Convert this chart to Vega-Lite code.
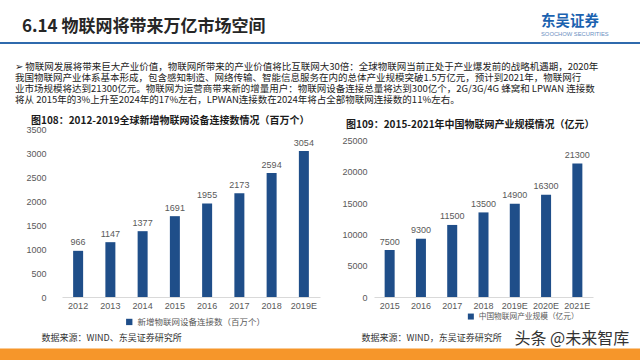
{
  "$schema": "https://vega.github.io/schema/vega-lite/v6.json",
  "padding": {"top": 14, "left": 0, "right": 0, "bottom": 5},
  "background": "white",
  "config": {
    "view": {"stroke": null},
    "font": "Noto Sans CJK SC",
    "title": {"font": "Noto Sans CJK SC"}
  },
  "spacing": 1.5,
  "vconcat": [
    {
      "spacing": 17.7,
      "vconcat": [
        {
          "spacing": 0,
          "hconcat": [
            {
              "width": 480,
              "height": 2,
              "view": {"fill": "#2f6aad", "stroke": null},
              "data": {"values": []},
              "mark": "text",
              "title": {"text": "6.14 物联网将带来万亿市场空间", "anchor": "start", "frame": "group", "dx": 22, "offset": 6.5, "fontSize": 17, "fontWeight": "bold", "color": "#262626"}
            },
            {
              "width": 160,
              "height": 2,
              "view": {"fill": "#2f6aad", "stroke": null},
              "data": {"values": []},
              "mark": "text",
              "title": {"text": "东吴证券", "subtitle": "SOOCHOW SECURITIES", "anchor": "start", "frame": "group", "dx": 61, "offset": 4.5, "fontSize": 14.5, "fontWeight": "bold", "color": "#1b62b0", "subtitleFontSize": 5.8, "subtitleColor": "#6b8fbf", "subtitlePadding": 1, "subtitleFont": "Liberation Sans"}
            }
          ]
        },
        {
          "spacing": 14,
          "resolve": {"scale": {"x": "independent", "y": "independent", "color": "independent"}, "legend": {"color": "independent"}},
          "title": {
            "text": [
              "➢  物联网发展将带来巨大产业价值，物联网所带来的产业价值将比互联网大30倍：全球物联网当前正处于产业爆发前的战略机遇期，2020年",
              "　我国物联网产业体系基本形成，包含感知制造、网络传输、智能信息服务在内的总体产业规模突破1.5万亿元，预计到2021年，物联网行",
              "　业市场规模将达到21300亿元。物联网为运营商带来新的增量用户：物联网设备连接总量将达到300亿个，2G/3G/4G 蜂窝和 LPWAN 连接数",
              "　将从 2015年的3%上升至2024年的17%左右，LPWAN连接数在2024年将占全部物联网连接数的11%左右。"
            ],
            "anchor": "start", "frame": "group", "dx": 15, "offset": 10.75, "fontSize": 9.5, "fontWeight": "normal", "lineHeight": 11, "color": "#222222"
          },
          "hconcat": [
            {"width": 11, "height": 1, "data": {"values": []}, "mark": "text"},
            {
              "width": 258,
              "height": 167.3,
              "title": {"text": "图108：2012-2019全球新增物联网设备连接数情况（百万个）", "anchor": "start", "frame": "group", "dx": -31, "offset": 0, "fontSize": 10, "fontWeight": "bold", "color": "#1a1a1a"},
              "data": {"values": [
                {"year": "2012", "value": 966},
                {"year": "2013", "value": 1147},
                {"year": "2014", "value": 1377},
                {"year": "2015", "value": 1691},
                {"year": "2016", "value": 1955},
                {"year": "2017", "value": 2173},
                {"year": "2018", "value": 2594},
                {"year": "2019E", "value": 3054}
              ]},
              "encoding": {
                "x": {"field": "year", "type": "nominal", "sort": null,
                  "scale": {"paddingInner": 0.69, "paddingOuter": 0.345},
                  "axis": {"labelAngle": 0, "ticks": false, "domainColor": "#d9d9d9", "labelColor": "#595959", "labelFont": "Liberation Sans", "labelFontSize": 9, "labelPadding": 4.5,
                    "title": "数据来源：WIND、东吴证券研究所", "titleX": -21, "titleY": 40, "titleAlign": "left", "titleBaseline": "middle", "titleFontSize": 9, "titleFontWeight": "normal", "titleColor": "#333333", "titleFont": "Noto Sans CJK SC"}},
                "y": {"field": "value", "type": "quantitative",
                  "scale": {"domain": [0, 3500], "nice": false},
                  "axis": {"values": [0, 500, 1000, 1500, 2000, 2500, 3000, 3500], "format": "d", "grid": false, "domain": false, "ticks": false, "labelPadding": 16, "labelColor": "#595959", "labelFont": "Liberation Sans", "labelFontSize": 9, "title": null}}
              },
              "layer": [
                {"mark": {"type": "bar", "color": "#1f4e89"},
                 "encoding": {"color": {"datum": "新增物联网设备连接数（百万个）", "type": "nominal", "scale": {"range": ["#1f4e89"]},
                   "legend": {"orient": "none", "legendX": 63, "legendY": 188, "title": null, "symbolType": "square", "symbolSize": 40, "symbolStrokeWidth": 0, "labelFontSize": 8.5, "labelColor": "#595959", "labelFont": "Noto Sans CJK SC", "padding": 0}}}},
                {"mark": {"type": "text", "dy": -5.5, "baseline": "alphabetic", "fontSize": 9, "font": "Liberation Sans", "color": "#595959"},
                 "encoding": {"text": {"field": "value", "type": "quantitative", "format": "d"}}}
              ]
            },
            {
              "width": 219,
              "height": 167.3,
              "title": {"text": "图109：2015-2021年中国物联网产业规模情况（亿元）", "anchor": "start", "frame": "group", "dx": -28, "offset": 0, "fontSize": 10, "fontWeight": "bold", "color": "#1a1a1a"},
              "data": {"values": [
                {"year": "2015", "value": 7500},
                {"year": "2016", "value": 9300},
                {"year": "2017", "value": 11500},
                {"year": "2018", "value": 13500},
                {"year": "2019E", "value": 14900},
                {"year": "2020E", "value": 16300},
                {"year": "2021E", "value": 21300}
              ]},
              "encoding": {
                "x": {"field": "year", "type": "nominal", "sort": null,
                  "scale": {"paddingInner": 0.68, "paddingOuter": 0.34},
                  "axis": {"labelAngle": 0, "ticks": false, "domainColor": "#d9d9d9", "labelColor": "#595959", "labelFont": "Liberation Sans", "labelFontSize": 9, "labelPadding": 4.5,
                    "title": "数据来源：WIND，东吴证券研究所", "titleX": -13, "titleY": 40, "titleAlign": "left", "titleBaseline": "middle", "titleFontSize": 9, "titleFontWeight": "normal", "titleColor": "#333333", "titleFont": "Noto Sans CJK SC"}},
                "y": {"field": "value", "type": "quantitative",
                  "scale": {"domain": [0, 26700], "nice": false},
                  "axis": {"values": [0, 5000, 10000, 15000, 20000, 25000], "format": "d", "grid": false, "domain": false, "ticks": false, "labelPadding": 7, "minExtent": 40, "labelColor": "#595959", "labelFont": "Liberation Sans", "labelFontSize": 9,
                    "title": "头条 @未来智库", "titleX": 140, "titleY": 208.8, "titleAngle": 0, "titleAlign": "left", "titleBaseline": "middle", "titleFontSize": 16, "titleFontWeight": "normal", "titleColor": "#333333", "titleFont": "Noto Sans CJK SC"}}
              },
              "layer": [
                {"mark": {"type": "bar", "color": "#1f4e89"},
                 "encoding": {"color": {"datum": "中国物联网产业规模（亿元）", "type": "nominal", "scale": {"range": ["#1f4e89"]},
                   "legend": {"orient": "none", "legendX": 93, "legendY": 183, "title": null, "symbolType": "square", "symbolSize": 36, "symbolStrokeWidth": 0, "labelFontSize": 7.7, "labelColor": "#595959", "labelFont": "Noto Sans CJK SC", "padding": 0}}}},
                {"mark": {"type": "text", "dy": -5.5, "baseline": "alphabetic", "fontSize": 9, "font": "Liberation Sans", "color": "#595959"},
                 "encoding": {"text": {"field": "value", "type": "quantitative", "format": "d"}}}
              ]
            }
          ]
        }
      ]
    },
    {
      "width": 640,
      "height": 12,
      "view": {"fill": "#f6962a", "stroke": null},
      "data": {"values": []},
      "mark": "text"
    }
  ]
}
